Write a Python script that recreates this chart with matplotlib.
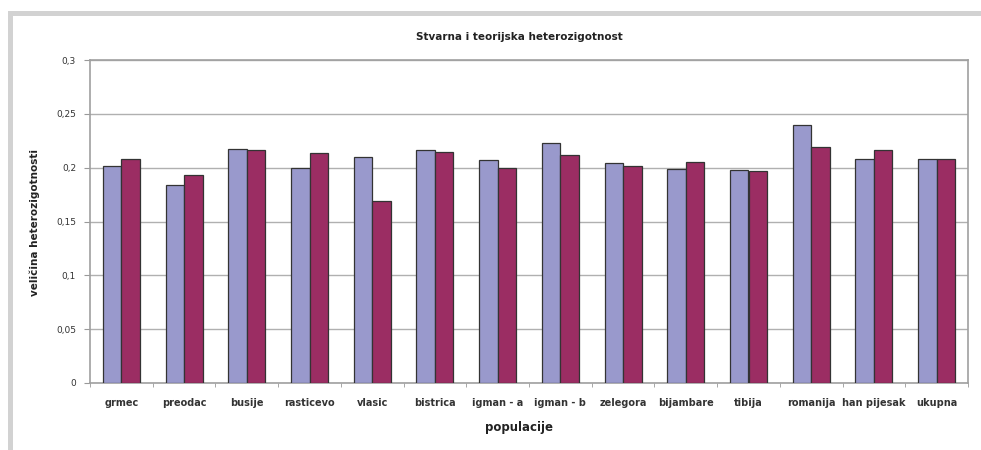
import matplotlib
matplotlib.use("Agg")
import matplotlib.pyplot as plt
import numpy as np
from matplotlib.patches import Rectangle

categories = ["grmec", "preodac", "busije", "rasticevo", "vlasic", "bistrica",
              "igman - a", "igman - b", "zelegora", "bijambare", "tibija",
              "romanija", "han pijesak", "ukupna"]
stvarna = [0.202, 0.184, 0.217, 0.200, 0.210, 0.216, 0.207,
           0.223, 0.204, 0.199, 0.198, 0.240, 0.208, 0.208]
teorijska = [0.208, 0.193, 0.216, 0.214, 0.169, 0.215, 0.200,
             0.212, 0.202, 0.205, 0.197, 0.219, 0.216, 0.208]
yticks = [0, 0.05, 0.1, 0.15, 0.2, 0.25, 0.3]
ytick_labels = ["0", "0,05", "0,1", "0,15", "0,2", "0,25", "0,3"]

W, H = 981, 450
fig = plt.figure(figsize=(W/100, H/100), dpi=100)
fig.patch.set_facecolor("white")

# gray frame bands
frame_col = "#d2d2d2"
fig.patches.append(Rectangle((8/W, 0), 5/W, (H-11)/H, transform=fig.transFigure,
                             facecolor=frame_col, edgecolor="none"))
fig.patches.append(Rectangle((8/W, (H-16)/H), (W-8)/W, 5/H, transform=fig.transFigure,
                             facecolor=frame_col, edgecolor="none"))

ax = fig.add_axes([90/W, (H-383)/H, (968-90)/W, (383-60)/H])
x = np.arange(len(categories))
bw = 0.295
ax.bar(x - bw/2, stvarna, bw, color="#9999cc", edgecolor="#333333", linewidth=0.9, zorder=3)
ax.bar(x + bw/2, teorijska, bw, color="#9b2d63", edgecolor="#333333", linewidth=0.9, zorder=3)

ax.set_xlim(-0.5, len(categories) - 0.5)
ax.set_ylim(0, 0.3)
ax.set_yticks(yticks)
ax.set_yticklabels(ytick_labels, fontsize=6.5, color="#333333")
ax.yaxis.grid(True, color="#b0b0b0", linewidth=1.0, zorder=0)
ax.set_xticks(x)
ax.set_xticklabels(categories, fontsize=7, fontweight="bold", color="#333333")
ax.tick_params(axis="x", length=0, pad=11)
ax.set_xticks(np.arange(len(categories) + 1) - 0.5, minor=True)
ax.tick_params(axis="x", which="minor", length=3, color="#999999")
ax.tick_params(axis="y", length=4, color="#999999", pad=6)
for s in ax.spines.values():
    s.set_color("#a0a0a0")
    s.set_linewidth(1.2)

fig.text(519/W, 1 - 37/H, "Stvarna i teorijska heterozigotnost", ha="center", va="center",
         fontsize=7.5, fontweight="bold", color="#222222")
fig.text(519/W, 1 - 428/H, "populacije", ha="center", va="center",
         fontsize=8.5, fontweight="bold", color="#222222")
fig.text(35/W, 1 - 222/H, "veličina heterozigotnosti", ha="center", va="center",
         rotation=90, fontsize=7.5, fontweight="bold", color="#222222")

fig.savefig("out.png", dpi=100)
